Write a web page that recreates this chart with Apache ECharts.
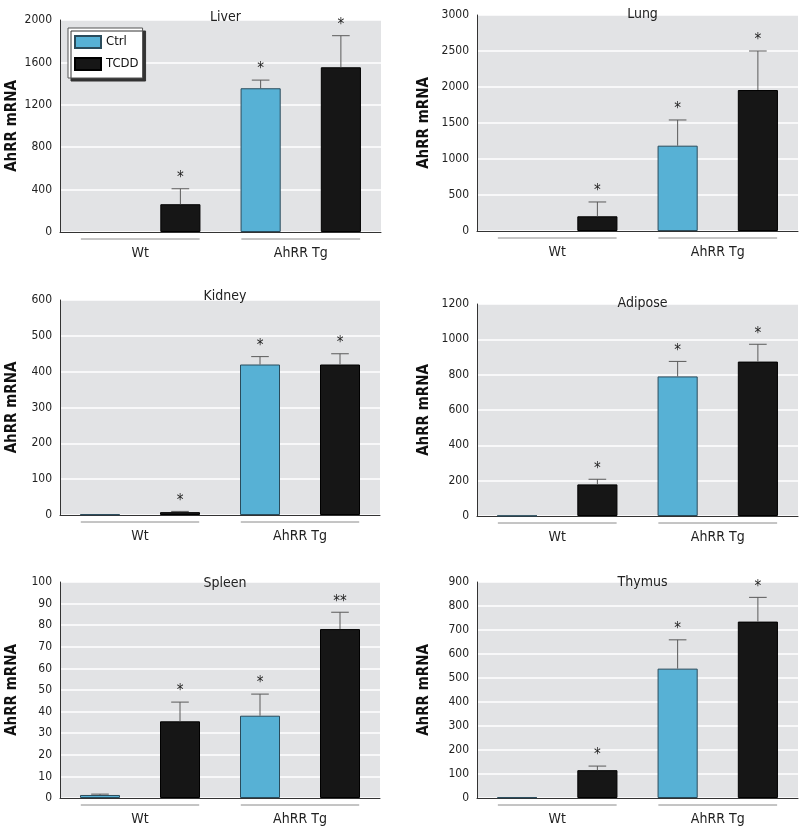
<!DOCTYPE html>
<html>
<head>
    <meta charset="utf-8">
    <title>AhRR mRNA</title>
    <script src="https://cdn.jsdelivr.net/npm/echarts@6/dist/echarts.min.js"></script>
    <style>
        * { padding: 0; margin: 0; }
        body { background: #fff; }
    </style>
</head>
<body>
    <div id="main" style="width:800px;height:828px;"></div>
    <script type="text/javascript">
        // data
        var groups = ['Wt', 'AhRR Tg'];
        var tissues = ['Liver', 'Lung', 'Kidney', 'Adipose', 'Spleen', 'Thymus'];
        var yMax = [2000, 3000, 600, 1200, 100, 900];
        var yStep = [400, 500, 100, 200, 10, 100];

        var ctrlMean = [[0, 1356], [0, 1185], [2, 420], [2, 790], [1.4, 38.1], [3, 539]];
        var ctrlErr = [[0, 77], [0, 357], [0, 22], [0, 85], [0.4, 10], [0, 120]];
        var ctrlStar = [['', '*'], ['', '*'], ['', '*'], ['', '*'], ['', '*'], ['', '*']];

        var tcddMean = [[262, 1554], [204, 1958], [8, 420], [179, 874], [35.5, 78.2], [116, 735]];
        var tcddErr = [[146, 298], [199, 542], [2, 30], [29, 98], [8.9, 7.8], [17, 101]];
        var tcddStar = [['*', '*'], ['*', '*'], ['*', '*'], ['*', '*'], ['*', '**'], ['*', '*']];

        var FONT = '"Liberation Sans Narrow", "DejaVu Sans Condensed", "Liberation Sans", sans-serif';

        // panel boxes
        var grids = [
            { left: 60, top: 20, width: 321, height: 212 },
            { left: 477, top: 15, width: 321, height: 216 },
            { left: 60, top: 300, width: 320, height: 215 },
            { left: 477, top: 304, width: 321, height: 212 },
            { left: 60, top: 582, width: 320, height: 216 },
            { left: 477, top: 582, width: 321, height: 216 }
        ];
        var titleTop = [5, 2, 284, 291, 571, 570];

        var myChart = echarts.init(document.getElementById('main'));

        function errRender(side, errs, stars) {
            return function (params, api) {
                var cat = api.value(0), val = api.value(1), err = errs[params.dataIndex];
                var p = api.coord([cat, val]);
                var band = api.size([1, 0])[0];
                var x = p[0] + side * band / 4;
                var top = api.coord([cat, val + err])[1];
                var cap = band * 0.055;
                var kids = [];
                if (err > 0) {
                    kids.push({ type: 'line', shape: { x1: x, y1: p[1], x2: x, y2: top }, style: { stroke: '#5a5a5a', lineWidth: 1 } });
                    kids.push({ type: 'line', shape: { x1: x - cap, y1: top, x2: x + cap, y2: top }, style: { stroke: '#5a5a5a', lineWidth: 1 } });
                }
                var s = stars[params.dataIndex];
                if (s) {
                    kids.push({ type: 'text', style: { text: s, x: x, y: top - 3, align: 'center', verticalAlign: 'bottom', fontSize: 15, fontFamily: FONT, fill: '#222' } });
                }
                return { type: 'group', children: kids };
            };
        }

        function underlineRender(params, api) {
            var p = api.coord([api.value(0), 0]);
            var band = api.size([1, 0])[0];
            return {
                type: 'line',
                shape: { x1: p[0] - band * 0.37, y1: p[1] + 7, x2: p[0] + band * 0.37, y2: p[1] + 7 },
                style: { stroke: '#8a8a8a', lineWidth: 1 }
            };
        }

        // a zero mean draws no outline
        function barData(vals) {
            return vals.map(function (v) {
                return v === 0 ? { value: 0, itemStyle: { borderWidth: 0 } } : v;
            });
        }

        var title = [], grid = [], xAxis = [], yAxis = [], series = [];
        tissues.forEach(function (name, i) {
            var g = grids[i];
            title.push({
                text: name, left: g.left + g.width / 2, top: titleTop[i], textAlign: 'center',
                textStyle: { fontSize: 14, fontWeight: 'normal', color: '#222', fontFamily: FONT }
            });
            grid.push({
                left: g.left, top: g.top, width: g.width, height: g.height,
                show: true, backgroundColor: '#e2e3e5', borderWidth: 0
            });
            xAxis.push({
                type: 'category', gridIndex: i, data: groups,
                axisLine: { lineStyle: { color: '#333', width: 1 } },
                axisTick: { show: false },
                axisLabel: { margin: 14, fontSize: 14, color: '#222', fontFamily: FONT }
            });
            yAxis.push({
                type: 'value', gridIndex: i, min: 0, max: yMax[i], interval: yStep[i],
                name: 'AhRR mRNA', nameLocation: 'middle', nameRotate: 90,
                nameGap: i % 2 === 0 ? 40 : 45,
                nameTextStyle: { fontSize: 15, fontWeight: 'bold', color: '#111', fontFamily: FONT },
                axisLine: { show: true, lineStyle: { color: '#333', width: 1 } },
                axisTick: { show: false },
                axisLabel: {
                    margin: 8, fontSize: 12, color: '#222', fontFamily: FONT,
                    formatter: function (v) { return String(v); }
                },
                splitLine: { lineStyle: { color: '#ffffff', width: 1.5 } }
            });
            series.push({
                name: 'Ctrl', type: 'bar', xAxisIndex: i, yAxisIndex: i,
                data: barData(ctrlMean[i]), barWidth: '25%', barGap: '100%',
                itemStyle: { color: '#57b1d5', borderColor: '#2a4c5c', borderWidth: 1 },
                silent: true
            });
            series.push({
                name: 'TCDD', type: 'bar', xAxisIndex: i, yAxisIndex: i,
                data: barData(tcddMean[i]), barWidth: '25%', barGap: '100%',
                itemStyle: { color: '#161616', borderColor: '#000', borderWidth: 1 },
                silent: true
            });
            series.push({
                type: 'custom', xAxisIndex: i, yAxisIndex: i, silent: true, z: 5,
                data: ctrlMean[i].map(function (v, k) { return [k, v]; }),
                renderItem: errRender(-1, ctrlErr[i], ctrlStar[i])
            });
            series.push({
                type: 'custom', xAxisIndex: i, yAxisIndex: i, silent: true, z: 5,
                data: tcddMean[i].map(function (v, k) { return [k, v]; }),
                renderItem: errRender(1, tcddErr[i], tcddStar[i])
            });
            series.push({
                type: 'custom', xAxisIndex: i, yAxisIndex: i, silent: true, clip: false,
                data: groups.map(function (gname, k) { return [k, 0]; }),
                renderItem: underlineRender
            });
        });

        var option = {
            animation: false,
            backgroundColor: '#fff',
            title: title,
            grid: grid,
            xAxis: xAxis,
            yAxis: yAxis,
            legend: {
                data: ['Ctrl', 'TCDD'],
                icon: 'rect',
                orient: 'vertical', left: 68, top: 28,
                itemWidth: 26, itemHeight: 12, itemGap: 8,
                padding: [7, 4, 7, 6],
                backgroundColor: '#fff', borderColor: '#555', borderWidth: 1,
                shadowColor: '#333', shadowOffsetX: 3, shadowOffsetY: 3, shadowBlur: 0,
                selectedMode: false,
                textStyle: { fontSize: 13, color: '#111', fontFamily: FONT }
            },
            series: series
        };
        myChart.setOption(option);
    </script>
</body>
</html>
